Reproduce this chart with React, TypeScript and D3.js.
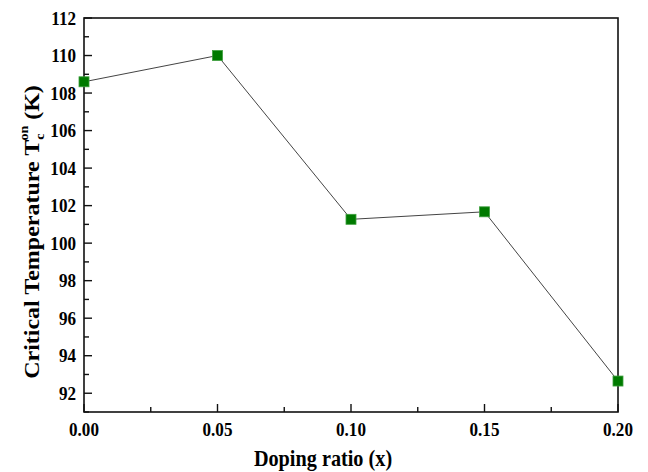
import React from 'react';
import * as d3 from 'd3';

const dopingRatio = [0.0, 0.05, 0.1, 0.15, 0.2];
const tcOnset = [108.6, 110.0, 101.27, 101.67, 92.65];
const xTickValues = [0, 0.05, 0.1, 0.15, 0.2];
const xMinorTicks = [0.025, 0.075, 0.125, 0.175];
const yTickValues = [92, 94, 96, 98, 100, 102, 104, 106, 108, 110, 112];
const yMinorTicks = [91, 93, 95, 97, 99, 101, 103, 105, 107, 109, 111];

const W = 648;
const H = 472;
const margin = { top: 18, right: 30, bottom: 60, left: 84 };
const font = '"Liberation Serif", "Times New Roman", serif';
// the reference looks squeezed sideways, so text gets a little x-scale
const sx = 0.9;

export default function App() {
  const x = d3.scaleLinear().domain([0, 0.2]).range([margin.left, W - margin.right]);
  const y = d3.scaleLinear().domain([91, 112]).range([H - margin.bottom, margin.top]);
  const line = d3.line<number>()
    .x((d, i) => x(dopingRatio[i]))
    .y(d => y(d));

  const x0 = margin.left;
  const x1 = W - margin.right;
  const y0 = H - margin.bottom;
  const y1 = margin.top;
  const ms = 10;

  return (
    <svg width={W} height={H} style={{ position: 'absolute', left: 0, top: 0, background: '#fff' }}>
      <path d={line(tcOnset) || ''} fill="none" stroke="#444" strokeWidth={1} />

      <rect x={x0} y={y1} width={x1 - x0} height={y0 - y1} fill="none" stroke="#111" strokeWidth={1.6} />

      {xTickValues.map(t => (
        <g key={'xt' + t}>
          <line x1={x(t)} x2={x(t)} y1={y0} y2={y0 - 8} stroke="#111" strokeWidth={1.4} />
          <text transform={`translate(${x(t)},${y0 + 24}) scale(${sx},1)`} textAnchor="middle"
            fontFamily={font} fontWeight="bold" fontSize={19}>
            {t.toFixed(2)}
          </text>
        </g>
      ))}
      {xMinorTicks.map(t => (
        <line key={'xm' + t} x1={x(t)} x2={x(t)} y1={y0} y2={y0 - 5} stroke="#111" strokeWidth={1.4} />
      ))}

      {yTickValues.map(t => (
        <g key={'yt' + t}>
          <line x1={x0} x2={x0 + 8} y1={y(t)} y2={y(t)} stroke="#111" strokeWidth={1.4} />
          <text transform={`translate(${x0 - 8},${y(t)}) scale(${sx},1)`} dy="0.35em" textAnchor="end"
            fontFamily={font} fontWeight="bold" fontSize={19}>
            {t}
          </text>
        </g>
      ))}
      {yMinorTicks.map(t => (
        <line key={'ym' + t} x1={x0} x2={x0 + 5} y1={y(t)} y2={y(t)} stroke="#111" strokeWidth={1.4} />
      ))}

      {tcOnset.map((v, i) => (
        <rect key={'p' + i} x={x(dopingRatio[i]) - ms / 2} y={y(v) - ms / 2} width={ms} height={ms}
          fill="#007a00" stroke="#3fa03f" strokeWidth={0.8} />
      ))}

      <text transform={`translate(323,${H - 6}) scale(0.88,1)`} textAnchor="middle"
        fontFamily={font} fontWeight="bold" fontSize={23}>
        Doping ratio (x)
      </text>

      <text transform={`translate(39,232) rotate(-90) scale(1,0.9)`} textAnchor="middle"
        fontFamily={font} fontWeight="bold" fontSize={24}>
        <tspan>Critical Temperature T</tspan>
        <tspan fontSize={14} dy={6}>c</tspan>
        <tspan fontSize={14} dx={-7} dy={-18}>on</tspan>
        <tspan dy={12}> (K)</tspan>
      </text>
    </svg>
  );
}
